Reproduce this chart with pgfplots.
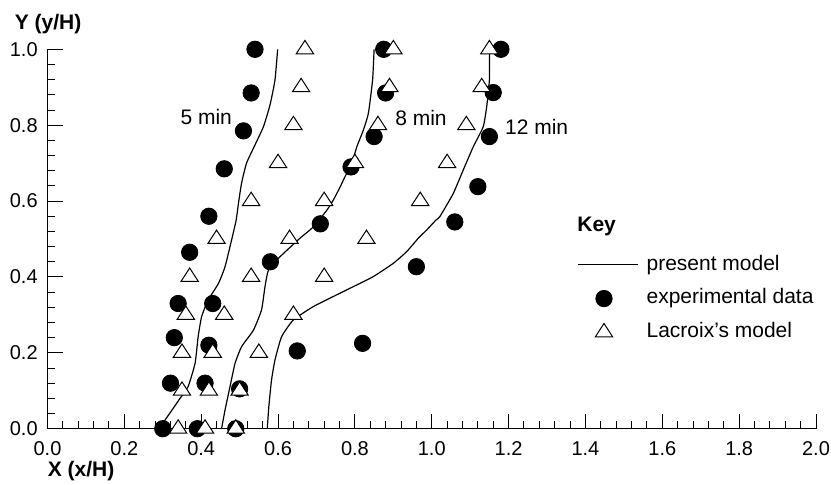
\documentclass[border=0pt]{standalone}
\usepackage{pgfplots}
\usepackage{pgfplotstable}
\pgfplotsset{compat=1.18}
\usepackage{fontspec}
\setmainfont{Liberation Sans}

\pgfplotsset{
  marklegend/.style={legend image code/.code={\path[draw=none, fill=none] (0pt,-4pt) rectangle (30pt,4pt); \draw[##1] plot coordinates {(13pt,0pt)};}},
  linelegend/.style={legend image code/.code={\draw[black, line width=0.6pt] (0pt,0pt) -- (30pt,0pt);}},
}

\pgfplotstableread{
x y
0.288 0.000
0.306 0.023
0.345 0.080
0.366 0.111
0.384 0.172
0.392 0.242
0.401 0.295
0.418 0.339
0.445 0.383
0.462 0.427
0.479 0.497
0.491 0.550
0.497 0.594
0.505 0.647
0.518 0.700
0.540 0.748
0.562 0.796
0.579 0.853
0.592 0.919
0.599 1.000
}\curvefive

\pgfplotstableread{
x y
0.453 0.000
0.462 0.049
0.475 0.111
0.488 0.172
0.505 0.216
0.536 0.260
0.557 0.313
0.566 0.374
0.575 0.418
0.605 0.453
0.657 0.502
0.692 0.532
0.727 0.576
0.744 0.603
0.762 0.638
0.774 0.664
0.792 0.700
0.805 0.743
0.822 0.787
0.835 0.831
0.846 0.919
0.850 1.000
}\curveeight

\pgfplotstableread{
x y
0.572 0.000
0.576 0.058
0.583 0.128
0.592 0.181
0.609 0.242
0.640 0.287
0.692 0.322
0.735 0.344
0.761 0.357
0.787 0.370
0.848 0.401
0.900 0.436
0.935 0.467
0.965 0.502
0.987 0.524
1.011 0.550
1.021 0.559
1.056 0.620
1.082 0.682
1.108 0.743
1.134 0.796
1.143 0.849
1.150 0.919
1.150 1.000
}\curvetwelve

\pgfplotstableread{
x y
0.30 0.00
0.32 0.12
0.33 0.24
0.34 0.33
0.37 0.465
0.42 0.56
0.46 0.685
0.51 0.785
0.53 0.885
0.54 1.00
0.39 0.00
0.41 0.12
0.42 0.22
0.43 0.33
0.58 0.44
0.71 0.54
0.79 0.69
0.85 0.77
0.88 0.885
0.875 1.00
0.49 0.00
0.50 0.105
0.65 0.205
0.82 0.225
0.96 0.427
1.06 0.545
1.12 0.638
1.15 0.77
1.16 0.886
1.18 1.00
}\experimental

\pgfplotstableread{
x y
0.34 0.0
0.35 0.1
0.35 0.2
0.36 0.3
0.37 0.4
0.44 0.5
0.53 0.6
0.60 0.7
0.64 0.8
0.66 0.9
0.67 1.0
0.41 0.0
0.42 0.1
0.43 0.2
0.46 0.3
0.53 0.4
0.63 0.5
0.72 0.6
0.80 0.7
0.86 0.8
0.89 0.9
0.90 1.0
0.49 0.0
0.50 0.1
0.55 0.2
0.64 0.3
0.72 0.4
0.83 0.5
0.97 0.6
1.04 0.7
1.09 0.8
1.13 0.9
1.15 1.0
}\lacroix

\begin{document}
\begin{tikzpicture}
\useasboundingbox (-23.75pt,-27.65pt) rectangle (391.75pt,214.35pt);
\begin{axis}[
  scale only axis,
  width=384.25pt, height=189.7pt,
  xmin=0, xmax=2, ymin=0, ymax=1,
  axis x line=bottom, axis y line=left,
  axis line style={-, line width=0.6pt, black},
  xtick={0,0.2,0.4,0.6,0.8,1.0,1.2,1.4,1.6,1.8,2.0},
  ytick={0,0.2,0.4,0.6,0.8,1.0},
  minor tick num=4,
  tick align=inside,
  major tick length=7.5pt, minor tick length=3.75pt,
  tick style={black, line width=0.5pt},
  ticklabel style={font=\fontsize{10}{12}\selectfont},
  xticklabel style={yshift=-2.8pt},
  yticklabel style={xshift=-1.4pt},
  clip=false,
  legend style={at={(axis cs:1.378,0.343)}, anchor=west, draw=none, fill=none,
    inner sep=0pt, row sep=7pt, column sep=4pt,
    font=\fontsize{10.5}{12.6}\selectfont,
    nodes={inner sep=0pt, text height=7.6pt, text depth=2.3pt}},
  legend cell align=left,
  /pgf/number format/fixed,
  /pgf/number format/fixed zerofill,
  /pgf/number format/precision=1,
  /pgf/number format/assume math mode=true,
]
\addplot[black, line width=0.6pt, smooth, tension=0.3, linelegend]
  table[x=x, y=y] {\curvefive};
\addlegendentry{present model}
\addplot[black, line width=0.6pt, smooth, tension=0.3, forget plot] table[x=x, y=y] {\curveeight};
\addplot[black, line width=0.6pt, smooth, tension=0.3, forget plot] table[x=x, y=y] {\curvetwelve};
\addplot[only marks, mark=*, mark size=4.1pt, mark options={draw=black, fill=black}, marklegend]
  table[x=x, y=y] {\experimental};
\addlegendentry{experimental data}
\addplot[only marks, mark=triangle*, mark size=5pt, mark options={draw=black, fill=white, line width=0.5pt, yscale=0.89}, marklegend]
  table[x=x, y=y] {\lacroix};
\addlegendentry{Lacroix's model}
\node[anchor=west, font=\fontsize{10.5}{12.6}\selectfont\bfseries, inner sep=0pt] at (axis cs:1.378,0.532) {Key};
\node[font=\fontsize{10.5}{12.6}\selectfont, inner sep=0pt] at (axis cs:0.413,0.8216) {5 min};
\node[font=\fontsize{10.5}{12.6}\selectfont, inner sep=0pt] at (axis cs:0.972,0.819) {8 min};
\node[font=\fontsize{10.5}{12.6}\selectfont, inner sep=0pt] at (axis cs:1.273,0.795) {12 min};
\node[anchor=west, font=\fontsize{10.5}{12.6}\selectfont\bfseries, inner sep=0pt] at ([yshift=-21.2pt]rel axis cs:0,0) {X (x/H)};
\node[anchor=west, font=\fontsize{10.5}{12.6}\selectfont\bfseries, inner sep=0pt] at ([xshift=-16.5pt, yshift=12.5pt]rel axis cs:0,1) {Y (y/H)};
\end{axis}
\end{tikzpicture}
\end{document}
